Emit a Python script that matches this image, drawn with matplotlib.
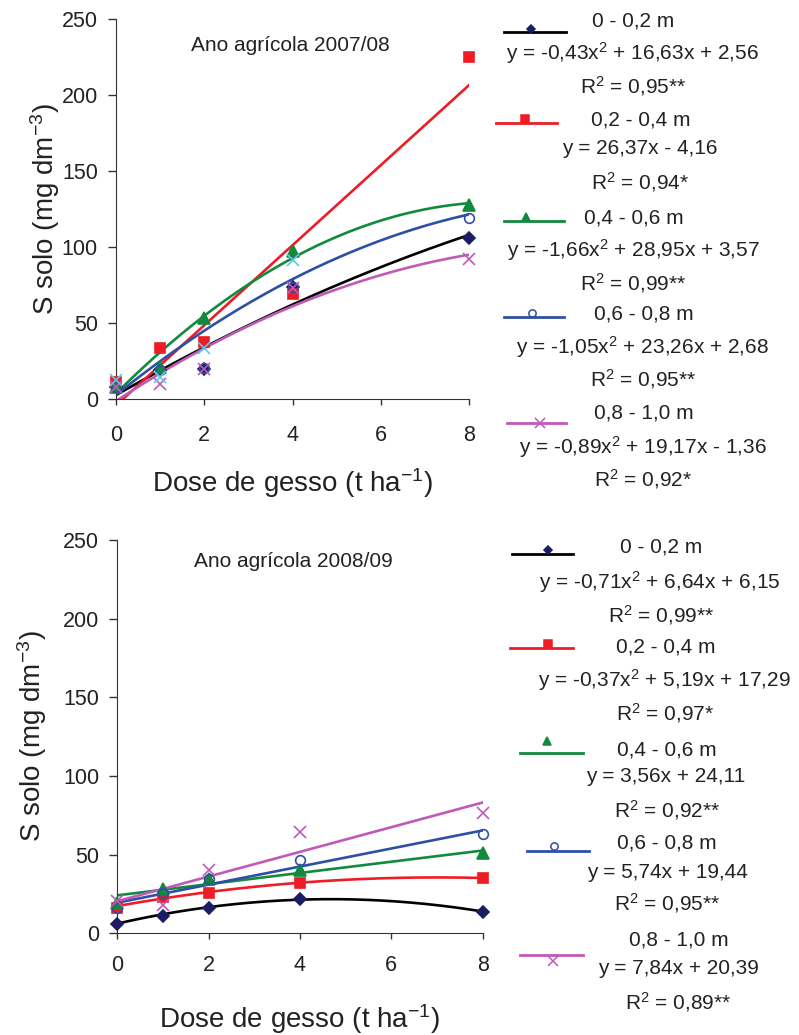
import numpy as np
import matplotlib
matplotlib.use('Agg')
import matplotlib.pyplot as plt

plt.rcParams['font.family'] = ['Liberation Sans', 'DejaVu Sans']
plt.rcParams['mathtext.fontset'] = 'custom'
plt.rcParams['mathtext.rm'] = 'Liberation Sans'
plt.rcParams['mathtext.it'] = 'Liberation Sans'

# doses de gesso (t/ha)
doses = [0, 1, 2, 4, 8]
layers = ['0 - 0,2 m', '0,2 - 0,4 m', '0,4 - 0,6 m', '0,6 - 0,8 m', '0,8 - 1,0 m']

# 2007/08 observed S (mg/dm3)
s07_l1 = [8, 19, 20, 73.5, 106]
s07_l2 = [11.4, 33.3, 37.3, 68.9, 225]
s07_l3 = [8, 21, 53, 97.6, 127.6]
s07_l4 = [8, 19, 20.5, 74, 119]
s07_l5 = [8, 9.7, 20, 73, 92]
s07_extra = [12.6, 14.7, 33.3, 91.4]  # light blue x markers
# fitted equations (highest power first)
c07 = [[-0.43, 16.63, 2.56], [0, 26.37, -4.16], [-1.66, 28.95, 3.57],
       [-1.05, 23.26, 2.68], [-0.89, 19.17, -1.36]]
eq07 = ['y = -0,43x$^2$ + 16,63x + 2,56', 'y = 26,37x - 4,16',
        'y = -1,66x$^2$ + 28,95x + 3,57', 'y = -1,05x$^2$ + 23,26x + 2,68',
        'y = -0,89x$^2$ + 19,17x - 1,36']
r07 = ['0,95**', '0,94*', '0,99**', '0,95**', '0,92*']

# 2008/09
s08_l1 = [5.9, 11.2, 15.9, 21.6, 13.7]
s08_l2 = [16, 23.3, 25.8, 32.2, 35.4]
s08_l3 = [19, 27.9, 34.2, 40.2, 50.9]
s08_l4 = [16, 25.4, 34.5, 46.6, 63.1]
s08_l5 = [20.7, 18, 39.9, 64.2, 76.7]
c08 = [[-0.71, 6.64, 6.15], [-0.37, 5.19, 17.29], [0, 3.56, 24.11],
       [0, 5.74, 19.44], [0, 7.84, 20.39]]
eq08 = ['y = -0,71x$^2$ + 6,64x + 6,15', 'y = -0,37x$^2$ + 5,19x + 17,29',
        'y = 3,56x + 24,11', 'y = 5,74x + 19,44', 'y = 7,84x + 20,39']
r08 = ['0,99**', '0,97*', '0,92**', '0,95**', '0,89**']

line_colors = ['#000000', '#ee1c25', '#128a3e', '#2f4fa6', '#c05ab8']
mk_colors = ['#1c1c64', '#ee1c25', '#128a3e', '#2f4fa6', '#c05ab8']
markers = ['D', 's', '^', 'o', 'x']
msizes = [6, 7, 8, 7, 9]

fig = plt.figure(figsize=(7.99, 10.35), dpi=100)


def draw_panel(rect, data, coefs, title, title_xy, xpad, xlabpad, ylabpad):
    ax = fig.add_axes(rect)
    xs = np.linspace(0, 8, 200)
    for i in range(5):
        ax.plot(xs, np.polyval(coefs[i], xs), color=line_colors[i], lw=1.9, zorder=2)
    for i in range(5):
        face = 'none' if markers[i] == 'o' else mk_colors[i]
        ax.plot(doses, data[i], ls='none', marker=markers[i], ms=msizes[i],
                mfc=face, mec=mk_colors[i], mew=1.2, clip_on=False, zorder=3)
    ax.set_xlim(0, 8)
    ax.set_ylim(0, 250)
    ax.set_xticks([0, 2, 4, 6, 8])
    ax.set_yticks([0, 50, 100, 150, 200, 250])
    for s in ['top', 'right']:
        ax.spines[s].set_visible(False)
    for s in ['left', 'bottom']:
        ax.spines[s].set_color('#333333')
    ax.tick_params(axis='x', direction='out', length=4.3, width=1, labelsize=15.5,
                   pad=xpad, color='#333333', labelcolor='#222222')
    ax.tick_params(axis='y', direction='out', length=5.8, width=1, labelsize=15.5,
                   pad=7.2, color='#333333', labelcolor='#222222')
    ax.set_ylabel('S solo (mg dm$^{-3}$)', fontsize=20, labelpad=ylabpad, color='#222222')
    ax.set_xlabel('Dose de gesso (t ha$^{-1}$)', fontsize=20, labelpad=xlabpad,
                  color='#222222')
    ax.text(title_xy[0], title_xy[1], title, fontsize=15, ha='center', va='center',
            color='#222222')
    return ax


ax1 = draw_panel([0.1452, 0.6145, 0.4422, 0.3669],
                 [s07_l1, s07_l2, s07_l3, s07_l4, s07_l5], c07,
                 'Ano agrícola 2007/08', (3.95, 233), 14.4, 14.8, 0)
ax1.plot(doses[:4], s07_extra, ls='none', marker='x', ms=9, mec='#5ec8e6',
         mew=1.2, clip_on=False, zorder=3)
ax2 = draw_panel([0.1468, 0.0983, 0.4573, 0.38],
                 [s08_l1, s08_l2, s08_l3, s08_l4, s08_l5], c08,
                 'Ano agrícola 2008/09', (3.85, 236), 11.5, 18.5, 10)

# legend area in pixel coordinates
lg = fig.add_axes([0, 0, 1, 1])
lg.set_xlim(0, 799)
lg.set_ylim(1035, 0)
lg.axis('off')

# (line x0, x1, line y, marker x, marker y, label x, label y, eq x, eq y, r x, r y)
leg07 = [(504, 566, 32, 531, 29, 633, 21, 633, 53, 633, 86),
         (496, 557, 123, 525, 119, 641, 120, 640, 148, 640, 182),
         (504, 564, 221, 526, 217, 634, 218, 633, 250, 633, 283),
         (504, 564, 317, 532, 313, 644, 314, 643, 347, 643, 379),
         (507, 566, 423, 540, 423, 644, 413, 643, 447, 643, 479)]
leg08 = [(512, 573, 554, 548, 550, 661, 547, 660, 582, 661, 615),
         (510, 573, 648, 548, 644, 666, 647, 665, 680, 665, 713),
         (520, 583, 753, 547, 741, 667, 750, 666, 777, 667, 810),
         (527, 589, 851, 554, 846, 667, 843, 667, 872, 667, 903),
         (520, 583, 955, 553, 961, 679, 940, 678, 968, 678, 1002)]


def draw_legend(pos, eqs, rs):
    for i in range(5):
        x0, x1, ly, mx, my, tx, ty, ex, ey, rx, ry = pos[i]
        lg.plot([x0, x1], [ly, ly], color=line_colors[i], lw=2)
        face = 'none' if markers[i] == 'o' else mk_colors[i]
        ms = msizes[i] * 0.75
        lg.plot([mx], [my], marker=markers[i], ms=ms, mfc=face, mec=mk_colors[i],
                mew=1.1, ls='none')
        lg.text(tx, ty, layers[i], fontsize=15, ha='center', va='center', color='#222222')
        lg.text(ex, ey, eqs[i], fontsize=15, ha='center', va='center', color='#222222')
        lg.text(rx, ry, 'R$^2$ = ' + rs[i], fontsize=15, ha='center', va='center',
                color='#222222')


draw_legend(leg07, eq07, r07)
draw_legend(leg08, eq08, r08)

fig.savefig('out.png', dpi=100)
